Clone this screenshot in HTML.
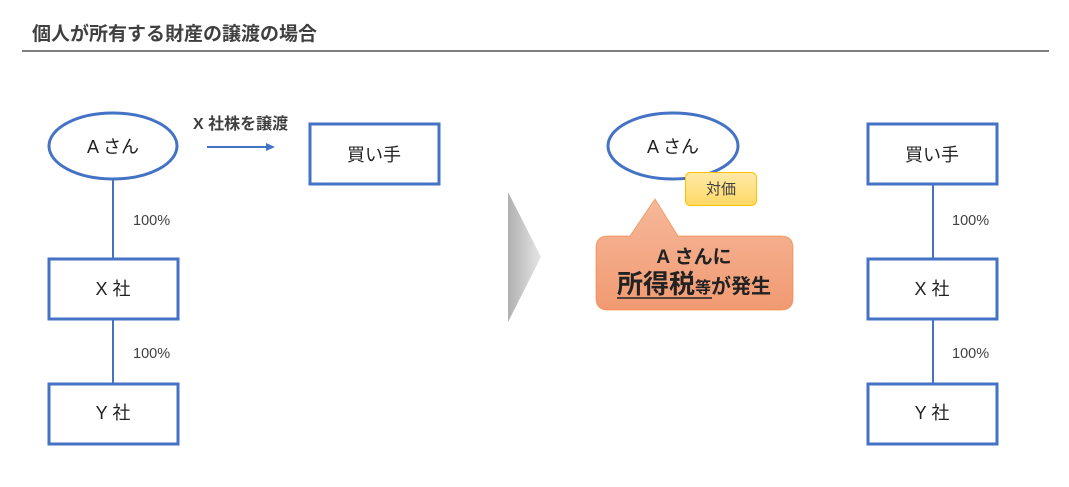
<!DOCTYPE html>
<html><head><meta charset="utf-8"><style>
html,body{margin:0;padding:0;background:#fff;}
svg{display:block;font-family:"Liberation Sans","Noto Sans CJK JP",sans-serif;}
</style></head><body>
<svg width="1069" height="487" viewBox="0 0 1069 487" xmlns="http://www.w3.org/2000/svg">
<defs>
<linearGradient id="tri" x1="0" x2="1" y1="0" y2="0"><stop offset="0" stop-color="#b0b0b0"/><stop offset="1" stop-color="#e6e6e6"/></linearGradient>
<linearGradient id="cal" x1="0" x2="0" y1="0" y2="1"><stop offset="0" stop-color="#f6b89a"/><stop offset="1" stop-color="#f19a72"/></linearGradient>
<linearGradient id="yel" x1="0" x2="0" y1="0" y2="1"><stop offset="0" stop-color="#ffe9a8"/><stop offset="1" stop-color="#ffd965"/></linearGradient>
</defs>
<text x="32" y="40" font-size="19" font-weight="bold" fill="#404040">個人が所有する財産の譲渡の場合</text>
<line x1="22" y1="51" x2="1049" y2="51" stroke="#000" stroke-width="1"/>

<g stroke="#4472c4" stroke-width="3" fill="#fff">
<line x1="113" y1="179" x2="113" y2="258" stroke-width="2"/>
<line x1="113" y1="319" x2="113" y2="383" stroke-width="2"/>
<ellipse cx="113" cy="146" rx="64" ry="33"/>
<rect x="49" y="259" width="129" height="60"/>
<rect x="49" y="384" width="129" height="60"/>
<rect x="310" y="124" width="129" height="60"/>
<line x1="933" y1="184" x2="933" y2="258" stroke-width="2"/>
<line x1="933" y1="319" x2="933" y2="383" stroke-width="2"/>
<rect x="868" y="124" width="129" height="60"/>
<rect x="868" y="259" width="129" height="60"/>
<rect x="868" y="384" width="129" height="60"/>
<ellipse cx="673" cy="146" rx="65" ry="33"/>
</g>
<line x1="207" y1="147" x2="268" y2="147" stroke="#4472c4" stroke-width="2"/>
<polygon points="275,147 266,143 266,151" fill="#4472c4"/>

<g font-size="18" fill="#222" text-anchor="middle">
<text x="113" y="153">A さん</text>
<text x="113" y="295">X 社</text>
<text x="113" y="419">Y 社</text>
<text x="374" y="161">買い手</text>
<text x="673" y="153">A さん</text>
<text x="932" y="161">買い手</text>
<text x="932" y="295">X 社</text>
<text x="932" y="419">Y 社</text>
</g>
<g font-size="14.5" fill="#404040">
<text x="133" y="225">100%</text>
<text x="133" y="358">100%</text>
<text x="952" y="225">100%</text>
<text x="952" y="358">100%</text>
</g>
<text x="193" y="129" font-size="16" font-weight="bold" fill="#404040">X 社株を譲渡</text>

<polygon points="508,192 541,257 508,322" fill="url(#tri)"/>

<rect x="685.5" y="172.5" width="71" height="33" rx="5" fill="url(#yel)" stroke="#ffc000" stroke-width="1"/>
<text x="721" y="194" font-size="15" text-anchor="middle" fill="#404040">対価</text>

<path d="M608,236 L630,236 L655,199 L678,236 L781,236 Q793,236 793,248 L793,298 Q793,310 781,310 L608,310 Q596,310 596,298 L596,248 Q596,236 608,236 Z" fill="url(#cal)" stroke="#ed7d31" stroke-opacity="0.6" stroke-width="1"/>
<text x="694" y="263" font-size="19" font-weight="bold" text-anchor="middle" fill="#222">A さんに</text>
<text x="617" y="293" font-weight="bold" fill="#222"><tspan font-size="26">所得税</tspan><tspan font-size="16">等</tspan><tspan font-size="20">が発生</tspan></text>
<line x1="617" y1="298" x2="712" y2="298" stroke="#222" stroke-width="1.5"/>
</svg>
</body></html>
